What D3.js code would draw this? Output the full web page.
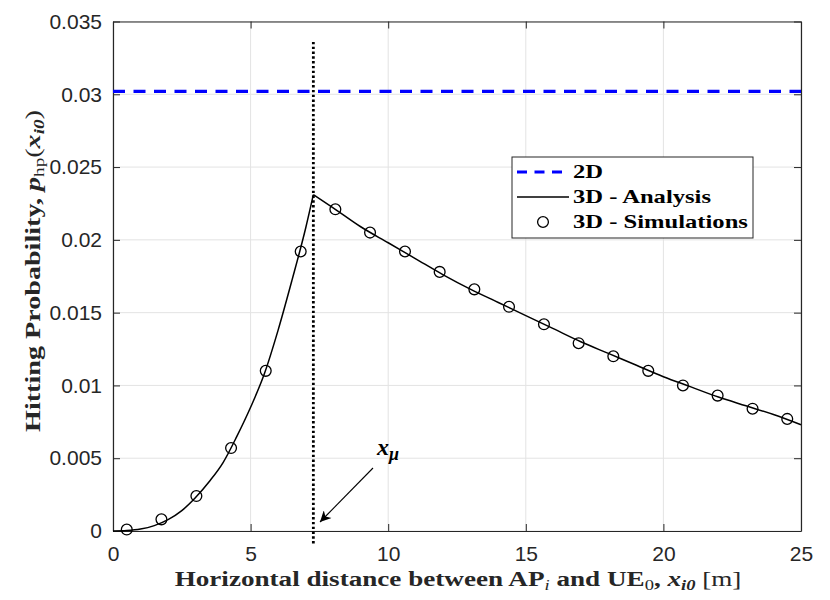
<!DOCTYPE html>
<html>
<head>
<meta charset="utf-8">
<script src="https://cdn.jsdelivr.net/npm/d3@7"></script>
<style>
  body { margin: 0; background: #fff; }
</style>
</head>
<body>
<svg id="canvas"></svg>
<script>
// analysis curve (3D)
const analysisX = [0, 0.5, 1, 1.5, 2, 2.5, 3, 3.5, 4, 4.5, 5, 5.5, 6, 6.5, 7, 7.28,
  8, 9, 10, 11, 12, 13, 14, 15, 16, 17, 18, 19, 20, 21, 22, 23, 24, 25];
const analysisY = [0, 0.00003, 0.00013, 0.00037, 0.00078, 0.0014, 0.0023, 0.0034, 0.0047, 0.0065, 0.0085, 0.0108, 0.0138, 0.0172, 0.0208, 0.0231,
  0.0222, 0.0209, 0.0198, 0.0187, 0.0176, 0.0166, 0.0157, 0.0148, 0.0139, 0.0130, 0.0122, 0.0114, 0.0106, 0.0099, 0.0092, 0.0086, 0.0080, 0.0073];

// simulation markers (3D)
const simX = [0.5, 1.76, 3.03, 4.29, 5.55, 6.82, 8.08, 9.34, 10.61, 11.87, 13.13, 14.39,
  15.66, 16.92, 18.18, 19.45, 20.71, 21.97, 23.24, 24.5];
const simY = [0.0001, 0.0008, 0.0024, 0.0057, 0.0110, 0.0192, 0.0221, 0.0205, 0.0192, 0.0178, 0.0166, 0.0154,
  0.0142, 0.0129, 0.0120, 0.0110, 0.0100, 0.0093, 0.0084, 0.0077];

// 2D constant
const value2D = 0.0302;
const xMu = 7.28;
const xMuSpan = [-0.001, 0.0336];

const xTicks = [0, 5, 10, 15, 20, 25];
const yTicks = [0, 0.005, 0.01, 0.015, 0.02, 0.025, 0.03, 0.035];
const legendLabels = ["2D", "3D - Analysis", "3D - Simulations"];

const width = 830, height = 600;
const padL = 113, padR = 801, padT = 21.5, padB = 531;
const axisColor = "#262626";
const serif = "'Liberation Serif', 'Times New Roman', serif";

const canvas = d3.select("#canvas").attr("width", width).attr("height", height);

const xScale = d3.scaleLinear().domain([0, 25]).range([padL, padR]);
const yScale = d3.scaleLinear().domain([0, 0.035]).range([padB, padT]);

// stretch a text horizontally (or vertically when rotated) to a given length, like the wide TeX bold font
const stretch = (sel, cx, cy, target, rotate) => {
  const w = sel.node().getBBox().width;
  const k = target / w;
  sel.attr("transform", `translate(${cx},${cy}) rotate(${rotate || 0}) scale(${k},1)`);
};

// grid
const grid = canvas.append("g");
grid.selectAll(".gx").data(xTicks).join("line")
  .attr("x1", d => xScale(d)).attr("x2", d => xScale(d))
  .attr("y1", padT).attr("y2", padB)
  .attr("stroke", "#e3e3e3").attr("stroke-width", 1);
grid.selectAll(".gy").data(yTicks).join("line")
  .attr("x1", padL).attr("x2", padR)
  .attr("y1", d => yScale(d)).attr("y2", d => yScale(d))
  .attr("stroke", "#e3e3e3").attr("stroke-width", 1);

// axes (inward ticks, box)
const styleAxis = g => {
  g.selectAll(".domain").attr("stroke", axisColor).attr("stroke-width", 1.2);
  g.selectAll(".tick line").attr("stroke", axisColor).attr("stroke-width", 1);
  g.selectAll("text").attr("font-family", "'Liberation Sans', Arial, sans-serif")
    .attr("font-size", 21).attr("fill", axisColor);
};

canvas.append("g").attr("transform", `translate(0,${padB})`)
  .call(d3.axisBottom(xScale).tickValues(xTicks).tickSize(-7).tickSizeOuter(0).tickPadding(15))
  .call(styleAxis);
canvas.append("g").attr("transform", `translate(0,${padT})`)
  .call(d3.axisTop(xScale).tickValues(xTicks).tickSize(-7).tickSizeOuter(0).tickFormat(""))
  .call(styleAxis);
canvas.append("g").attr("transform", `translate(${padL},0)`)
  .call(d3.axisLeft(yScale).tickValues(yTicks).tickSize(-7).tickSizeOuter(0).tickPadding(11)
    .tickFormat(d => String(d)))
  .call(styleAxis);
canvas.append("g").attr("transform", `translate(${padR},0)`)
  .call(d3.axisRight(yScale).tickValues(yTicks).tickSize(-7).tickSizeOuter(0).tickFormat(""))
  .call(styleAxis);

// 2D dashed line
canvas.append("line")
  .attr("x1", xScale(0)).attr("x2", xScale(25))
  .attr("y1", yScale(value2D)).attr("y2", yScale(value2D))
  .attr("stroke", "#0000ff").attr("stroke-width", 3.2)
  .attr("stroke-dasharray", "12,8.5");

// x_mu dotted line
canvas.append("line")
  .attr("x1", xScale(xMu)).attr("x2", xScale(xMu))
  .attr("y1", yScale(xMuSpan[1])).attr("y2", yScale(xMuSpan[0]))
  .attr("stroke", "#000").attr("stroke-width", 2.8)
  .attr("stroke-dasharray", "2.4,2.4");

// analysis curve
const analysis = analysisX.map((x, i) => [x, analysisY[i]]);
const line = d3.line().x(d => xScale(d[0])).y(d => yScale(d[1])).curve(d3.curveMonotoneX);
canvas.append("path").datum(analysis.slice(0, 16))
  .attr("d", line).attr("fill", "none").attr("stroke", "#000").attr("stroke-width", 1.5);
canvas.append("path").datum(analysis.slice(15))
  .attr("d", line).attr("fill", "none").attr("stroke", "#000").attr("stroke-width", 1.5);

// simulation markers
canvas.append("g").selectAll("circle").data(simX.map((x, i) => [x, simY[i]])).join("circle")
  .attr("cx", d => xScale(d[0])).attr("cy", d => yScale(d[1])).attr("r", 5.4)
  .attr("fill", "none").attr("stroke", "#000").attr("stroke-width", 1.3);

// annotation x_mu with arrow
const defs = canvas.append("defs");
defs.append("marker").attr("id", "arrow").attr("viewBox", "0 0 10 10")
  .attr("refX", 10).attr("refY", 5).attr("markerWidth", 15).attr("markerHeight", 11)
  .attr("markerUnits", "userSpaceOnUse").attr("orient", "auto")
  .append("path").attr("d", "M0,0 L10,5 L0,10 L3,5 Z").attr("fill", "#000");
canvas.append("line")
  .attr("x1", 373).attr("y1", 468).attr("x2", 320).attr("y2", 522)
  .attr("stroke", "#000").attr("stroke-width", 1.1).attr("marker-end", "url(#arrow)");
const ann = canvas.append("text").attr("x", 377).attr("y", 455)
  .attr("font-family", serif).attr("font-weight", "bold").attr("font-style", "italic")
  .attr("font-size", 24).attr("fill", "#000");
ann.append("tspan").text("x");
ann.append("tspan").attr("dy", 5).attr("font-size", 18).text("μ");

// axis titles
const xt = canvas.append("text").attr("y", 0)
  .attr("text-anchor", "middle").attr("font-family", serif).attr("font-weight", "bold")
  .attr("font-size", 22).attr("fill", axisColor);
xt.append("tspan").text("Horizontal distance between AP");
xt.append("tspan").attr("dy", 4).attr("font-size", 15).attr("font-style", "italic").attr("font-weight", "normal").text("i");
xt.append("tspan").attr("dy", -4).text(" and UE");
xt.append("tspan").attr("dy", 4).attr("font-size", 15).attr("font-weight", "normal").text("0");
xt.append("tspan").attr("dy", -4).text(", ");
xt.append("tspan").attr("font-style", "italic").text("x");
xt.append("tspan").attr("dy", 4).attr("font-size", 15).attr("font-style", "italic").text("i0");
xt.append("tspan").attr("dy", -4).attr("font-weight", "normal").text(" [m]");
stretch(xt, 458, 586, 567);

const yt = canvas.append("text")
  .attr("text-anchor", "middle").attr("font-family", serif).attr("font-weight", "bold")
  .attr("font-size", 22).attr("fill", axisColor);
yt.append("tspan").text("Hitting Probability, ");
yt.append("tspan").attr("font-style", "italic").text("p");
yt.append("tspan").attr("dy", 4).attr("font-size", 15).attr("font-weight", "normal").text("hp");
yt.append("tspan").attr("dy", -4).attr("font-weight", "normal").text("(");
yt.append("tspan").attr("font-style", "italic").text("x");
yt.append("tspan").attr("dy", 4).attr("font-size", 15).attr("font-style", "italic").text("i0");
yt.append("tspan").attr("dy", -4).attr("font-weight", "normal").text(")");
stretch(yt, 40, 271, 322, -90);

// legend
const lg = canvas.append("g");
lg.append("rect").attr("x", 512).attr("y", 157).attr("width", 241).attr("height", 81)
  .attr("fill", "#fff").attr("stroke", axisColor).attr("stroke-width", 1);
const rowY = [172, 197, 222];
lg.append("line").attr("x1", 517).attr("x2", 569).attr("y1", rowY[0]).attr("y2", rowY[0])
  .attr("stroke", "#0000ff").attr("stroke-width", 3.2).attr("stroke-dasharray", "10,7.5");
lg.append("line").attr("x1", 517).attr("x2", 569).attr("y1", rowY[1]).attr("y2", rowY[1])
  .attr("stroke", "#000").attr("stroke-width", 1.5);
lg.append("circle").attr("cx", 543).attr("cy", rowY[2]).attr("r", 5.4)
  .attr("fill", "none").attr("stroke", "#000").attr("stroke-width", 1.3);
const lt = lg.append("g").attr("font-family", serif).attr("font-weight", "bold").attr("font-size", 18);
lt.selectAll("text").data(legendLabels).join("text")
  .attr("x", 0).attr("y", (d, i) => rowY[i] + 6)
  .attr("fill", "#000").text(d => d);
const lw = lt.selectAll("text").nodes()[2].getBBox().width;
lt.attr("transform", `translate(573,0) scale(${175 / lw},1)`);
</script>
</body>
</html>
